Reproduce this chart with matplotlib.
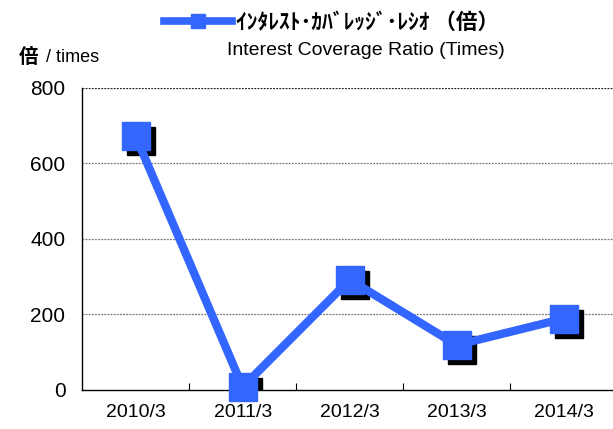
import matplotlib
matplotlib.use("Agg")
import matplotlib.pyplot as plt
import matplotlib.transforms as mtransforms
from matplotlib.lines import Line2D

# data
years = ["2010/3", "2011/3", "2012/3", "2013/3", "2014/3"]
ratio = [672, 8, 292, 119, 189]
yticks = [0, 200, 400, 600, 800]

plt.rcParams["font.family"] = ["Liberation Sans", "Noto Sans CJK JP", "DejaVu Sans"]

blue = "#3366FF"

fig = plt.figure(figsize=(6.13, 4.29), dpi=100)
ax = fig.add_axes([0.134, 0.091, 0.873, 0.704])

x = list(range(len(years)))

# shadow squares
shadow = mtransforms.offset_copy(ax.transData, fig=fig, x=5, y=-5, units="dots")
ax.plot(x, ratio, linestyle="none", marker="s", markersize=19.5,
        color="black", transform=shadow, zorder=3)
ax.plot(x, ratio, color=blue, linewidth=6, marker="s", markersize=19.5,
        markerfacecolor=blue, markeredgecolor=blue, zorder=4, clip_on=False)

ax.set_xlim(-0.5, len(years) - 0.5)
ax.set_ylim(0, 800)
ax.set_yticks(yticks)
ax.set_yticklabels([str(v) for v in yticks], fontsize=15)
ax.set_xticks(x)
ax.set_xticklabels(years, fontsize=14)
ax.set_xticks([i + 0.5 for i in x[:-1]], minor=True)
ax.tick_params(axis="x", which="major", length=0, pad=10)
ax.tick_params(axis="x", which="minor", direction="in", length=5, width=0.8)
ax.tick_params(axis="y", length=0, pad=12)

for v in yticks[1:]:
    ax.axhline(v, color="#777777" if v < 800 else "#222222",
               linestyle=(0, (1.5, 1)), linewidth=0.9, zorder=1)

for s in ["top", "right"]:
    ax.spines[s].set_visible(False)
ax.spines["left"].set_linewidth(1)
ax.spines["bottom"].set_linewidth(1)

# legend + titles
handle = Line2D([], [], color=blue, linewidth=5.5, marker="s", markersize=10,
                markerfacecolor=blue, markeredgecolor=blue)
fig.legend(handles=[handle], labels=["ｲﾝﾀﾚｽﾄ･ｶﾊﾞﾚｯｼﾞ･ﾚｼｵ （倍）"],
           loc="center", bbox_to_anchor=(0.54, 0.948),
           frameon=False, handlelength=3.2, handletextpad=0.15,
           prop={"family": ["Noto Sans CJK JP"], "weight": "bold", "size": 15.5})
fig.text(0.597, 0.882, "Interest Coverage Ratio (Times)", ha="center", va="center",
         fontsize=14)
fig.text(0.03, 0.866, "倍", fontsize=14, fontweight="bold",
         family=["Noto Sans CJK JP"], va="center", ha="left")
fig.text(0.067, 0.866, " / times", fontsize=13, va="center", ha="left")

fig.savefig("out.png", dpi=100)
